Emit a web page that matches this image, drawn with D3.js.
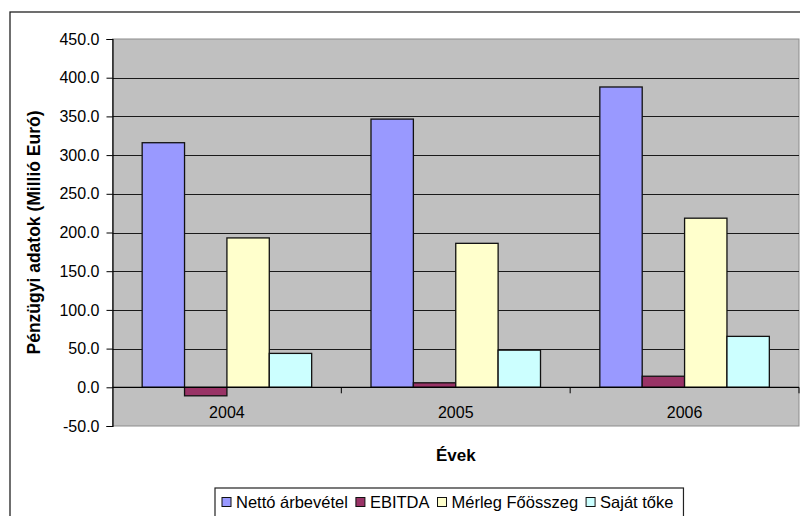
<!DOCTYPE html>
<html>
<head>
<meta charset="utf-8">
<script src="https://cdn.jsdelivr.net/npm/d3@7"></script>
<style>
  html, body { margin: 0; padding: 0; background: #fff; }
  svg { display: block; font-family: "Liberation Sans", Arial, sans-serif; }
</style>
</head>
<body>
<svg id="chart" width="800" height="516"></svg>
<script>
// Financial figures per year (million euro)
const years = ["2004", "2005", "2006"];
const seriesNames = ["Nettó árbevétel", "EBITDA", "Mérleg Főösszeg", "Saját tőke"];
const nettoArbevetel = [316, 346.5, 388];
const ebitda = [-11, 5.8, 14.3];
const merlegFoosszeg = [193, 186, 218.5];
const sajatToke = [43.8, 48, 65.8];
const seriesColors = ["#9999FF", "#993366", "#FFFFCC", "#CCFFFF"];
const yTicks = [-50, 0, 50, 100, 150, 200, 250, 300, 350, 400, 450];
const yAxisTitle = "Pénzügyi adatok (Millió Euró)";
const xAxisTitle = "Évek";

const seriesValues = [nettoArbevetel, ebitda, merlegFoosszeg, sajatToke];

const svg = d3.select("#chart");
const plot = { left: 112.5, right: 799, top: 39, bottom: 426 };

// Outer chart frame
svg.append("rect")
  .attr("x", 10).attr("y", 12).attr("width", 800).attr("height", 520)
  .attr("fill", "#fff").attr("stroke", "#222").attr("stroke-width", 1.3);

const y = d3.scaleLinear().domain([-50, 450]).range([plot.bottom, plot.top]);
const x0 = d3.scaleBand().domain(years).range([plot.left, plot.right]).padding(0);
const x1 = d3.scaleBand().domain(seriesNames).range([0, x0.bandwidth()])
  .paddingInner(0).paddingOuter(0.7);

// Plot background
svg.append("rect")
  .attr("x", plot.left).attr("y", plot.top)
  .attr("width", plot.right - plot.left).attr("height", plot.bottom - plot.top)
  .attr("fill", "#C0C0C0").attr("stroke", "#8c8c8c").attr("stroke-width", 1);

// Horizontal gridlines
svg.append("g")
  .selectAll("line")
  .data(yTicks.filter(t => t !== -50 && t !== 0 && t !== 450))
  .join("line")
  .attr("x1", plot.left).attr("x2", plot.right)
  .attr("y1", d => Math.round(y(d)) + 0.5).attr("y2", d => Math.round(y(d)) + 0.5)
  .attr("stroke", "#1a1a1a").attr("stroke-width", 1);

// Bars
const groups = svg.append("g")
  .selectAll("g")
  .data(years)
  .join("g")
  .attr("transform", d => `translate(${x0(d)},0)`);

groups.selectAll("rect")
  .data((yr, i) => seriesNames.map((name, s) => ({ name, s, value: seriesValues[s][i] })))
  .join("rect")
  .attr("x", d => x1(d.name))
  .attr("width", x1.bandwidth())
  .attr("y", d => y(Math.max(0, d.value)))
  .attr("height", d => Math.abs(y(d.value) - y(0)))
  .attr("fill", d => seriesColors[d.s])
  .attr("stroke", "#111")
  .attr("stroke-width", 1.3);

// Y axis (plain hyphen for negatives)
const fmt = d3.format(".1f");
const yAxis = d3.axisLeft(y)
  .tickValues(yTicks)
  .tickFormat(d => fmt(d).replace("\u2212", "-"))
  .tickSize(6)
  .tickPadding(7);
const yAxisG = svg.append("g")
  .attr("transform", `translate(${plot.left},0)`)
  .call(yAxis);
yAxisG.select(".domain").attr("stroke", "#000").attr("stroke-width", 1.2);
yAxisG.selectAll(".tick line").attr("stroke", "#000");
yAxisG.selectAll(".tick text")
  .attr("font-size", 16).attr("fill", "#000")
  .attr("font-family", "Liberation Sans, Arial, sans-serif");

// X axis along zero
const xAxisG = svg.append("g")
  .attr("transform", `translate(0,${y(0)})`);
xAxisG.append("line")
  .attr("x1", plot.left).attr("x2", plot.right)
  .attr("y1", 0).attr("y2", 0)
  .attr("stroke", "#000").attr("stroke-width", 1.3);
xAxisG.selectAll("line.cat-tick")
  .data(years.slice(1).concat(["end"]))
  .join("line")
  .attr("class", "cat-tick")
  .attr("x1", (d, i) => i < years.length - 1 ? x0(d) : plot.right)
  .attr("x2", (d, i) => i < years.length - 1 ? x0(d) : plot.right)
  .attr("y1", 0).attr("y2", 6)
  .attr("stroke", "#000");
xAxisG.selectAll("text")
  .data(years)
  .join("text")
  .attr("x", d => x0(d) + x0.bandwidth() / 2)
  .attr("y", 31)
  .attr("text-anchor", "middle")
  .attr("font-size", 16)
  .attr("fill", "#000")
  .text(d => d);

// Axis titles
svg.append("text")
  .attr("transform", `translate(40,${(plot.top + plot.bottom) / 2}) rotate(-90)`)
  .attr("text-anchor", "middle")
  .attr("font-size", 17.5)
  .attr("font-weight", "bold")
  .text(yAxisTitle);

svg.append("text")
  .attr("x", (plot.left + plot.right) / 2)
  .attr("y", 461)
  .attr("text-anchor", "middle")
  .attr("font-size", 17)
  .attr("font-weight", "bold")
  .text(xAxisTitle);

// Legend
const legend = svg.append("g");
const legendBox = legend.append("rect")
  .attr("x", 215).attr("y", 488).attr("height", 40)
  .attr("fill", "#fff").attr("stroke", "#222").attr("stroke-width", 1.2);
let lx = 222;
seriesNames.forEach((name, s) => {
  legend.append("rect")
    .attr("x", lx).attr("y", 497.5).attr("width", 9).attr("height", 9)
    .attr("fill", seriesColors[s]).attr("stroke", "#111").attr("stroke-width", 1);
  const t = legend.append("text")
    .attr("x", lx + 14).attr("y", 507.5)
    .attr("font-size", 16.5)
    .attr("fill", "#000")
    .text(name);
  lx += 14 + t.node().getComputedTextLength() + 8;
});
legendBox.attr("width", lx - 215 + 2);
</script>
</body>
</html>
